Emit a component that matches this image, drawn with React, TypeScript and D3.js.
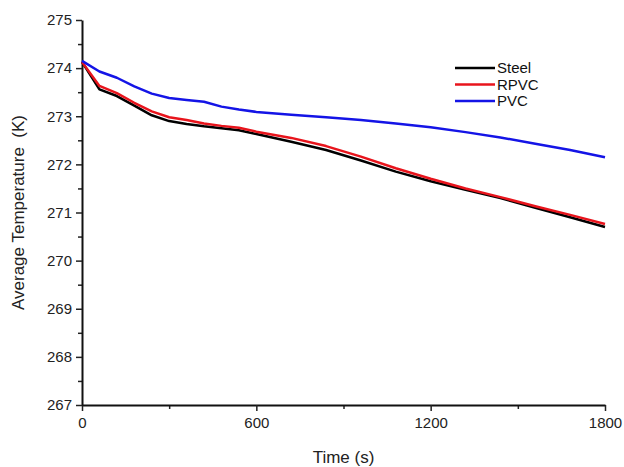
import React, { useRef, useEffect } from 'react';
import * as d3 from 'd3';

const times = [0, 60, 120, 180, 240, 300, 360, 420, 480, 540, 600, 720, 840, 960, 1080, 1200, 1320, 1440, 1560, 1680, 1800];
const steel = [274.13, 273.56, 273.42, 273.22, 273.02, 272.9, 272.84, 272.79, 272.75, 272.71, 272.63, 272.47, 272.3, 272.08, 271.85, 271.65, 271.47, 271.3, 271.1, 270.9, 270.7];
const rpvc = [274.13, 273.63, 273.48, 273.28, 273.1, 272.98, 272.92, 272.85, 272.8, 272.76, 272.68, 272.55, 272.38, 272.16, 271.92, 271.7, 271.5, 271.32, 271.13, 270.95, 270.76];
const pvc = [274.15, 273.93, 273.8, 273.62, 273.47, 273.38, 273.34, 273.3, 273.2, 273.14, 273.09, 273.03, 272.98, 272.92, 272.85, 272.77, 272.67, 272.56, 272.43, 272.3, 272.15];

const seriesNames = ['Steel', 'RPVC', 'PVC'];
const seriesColors = ['#000000', '#e8141c', '#1414e6'];
const xTicks = [0, 600, 1200, 1800];
const xMinor = [300, 900, 1500];
const yTicks = [267, 268, 269, 270, 271, 272, 273, 274, 275];
const yMinor = [267.5, 268.5, 269.5, 270.5, 271.5, 272.5, 273.5, 274.5];

const width = 624;
const height = 467;

const App = () => {
  const svgRef = useRef<SVGSVGElement>(null);

  useEffect(() => {
    const margin = { top: 20, right: 19, bottom: 62, left: 82 };
    const innerWidth = width - margin.left - margin.right;
    const innerHeight = height - margin.top - margin.bottom;

    const root = d3.select(svgRef.current);
    root.selectAll('*').remove();
    const svg = root.append('g').attr('transform', `translate(${margin.left},${margin.top})`);

    const xScale = d3.scaleLinear().domain([0, 1800]).range([0, innerWidth]);
    const yScale = d3.scaleLinear().domain([267, 275]).range([innerHeight, 0]);

    const font = 'Liberation Sans, Arial, sans-serif';

    // minor ticks
    svg.append('g').attr('transform', `translate(0,${innerHeight})`)
      .call(d3.axisBottom(xScale).tickValues(xMinor).tickSize(4).tickFormat(() => ''))
      .call(g => g.select('.domain').remove());
    svg.append('g')
      .call(d3.axisLeft(yScale).tickValues(yMinor).tickSize(4).tickFormat(() => ''))
      .call(g => g.select('.domain').remove());

    const xAxis = svg.append('g').attr('transform', `translate(0,${innerHeight})`)
      .call(d3.axisBottom(xScale).tickValues(xTicks).tickFormat(d3.format('d')).tickSize(6).tickSizeOuter(0).tickPadding(6));
    const yAxis = svg.append('g')
      .call(d3.axisLeft(yScale).tickValues(yTicks).tickFormat(d3.format('d')).tickSize(6).tickSizeOuter(0).tickPadding(4));

    [xAxis, yAxis].forEach(a => {
      a.select('.domain').attr('stroke-width', 2).attr('stroke', '#111');
      a.selectAll('text').attr('font-family', font).attr('font-size', 15).attr('fill', '#222');
    });
    svg.selectAll('.tick line').attr('stroke-width', 1.5).attr('stroke', '#222');

    const seriesData = [steel, rpvc, pvc];
    const line = d3.line<number>()
      .x((_, i) => xScale(times[i]))
      .y(d => yScale(d));

    [0, 1, 2].forEach(i => {
      svg.append('path')
        .datum(seriesData[i])
        .attr('fill', 'none')
        .attr('stroke', seriesColors[i])
        .attr('stroke-width', 2.5)
        .attr('stroke-linejoin', 'round')
        .attr('d', line);
    });

    // legend
    const legend = svg.append('g').attr('transform', `translate(${455 - margin.left},${68 - margin.top})`);
    seriesNames.forEach((name, i) => {
      const row = legend.append('g').attr('transform', `translate(0,${i * 16.5})`);
      row.append('line').attr('x1', 0).attr('x2', 40).attr('y1', 0).attr('y2', 0)
        .attr('stroke', seriesColors[i]).attr('stroke-width', 2.5);
      row.append('text').attr('x', 42).attr('y', 5).attr('font-family', font)
        .attr('font-size', 15).attr('fill', '#111').text(name);
    });

    // axis labels
    root.append('text')
      .attr('x', margin.left + innerWidth / 2)
      .attr('y', 463)
      .attr('text-anchor', 'middle')
      .attr('font-family', font).attr('font-size', 17).attr('fill', '#222')
      .text('Time (s)');

    root.append('text')
      .attr('transform', `translate(24,${margin.top + innerHeight / 2}) rotate(-90)`)
      .attr('text-anchor', 'middle')
      .attr('font-family', font).attr('font-size', 17).attr('fill', '#222')
      .style('white-space', 'pre')
      .text('Average Temperature  (K)');
  }, []);

  return (
    <svg ref={svgRef} width={width} height={height}
      style={{ position: 'absolute', left: 0, top: 0, background: '#fff' }} />
  );
};

export default App;
